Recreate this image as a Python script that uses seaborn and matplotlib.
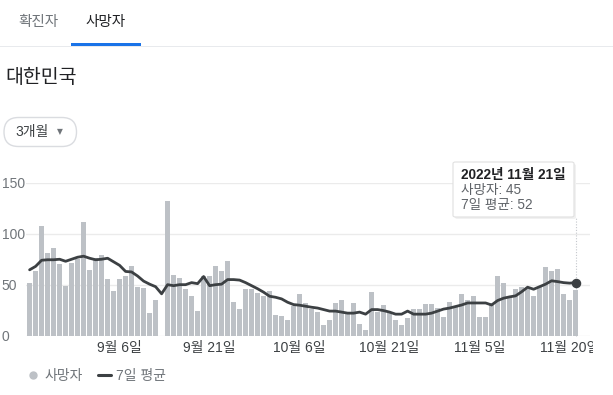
import numpy as np
import pandas as pd
import seaborn as sns
import matplotlib.pyplot as plt
from matplotlib.patches import FancyBboxPatch, Rectangle
from matplotlib.lines import Line2D
from matplotlib.transforms import Bbox, TransformedBbox

# daily deaths, 2022-08-22 .. 2022-11-21
deaths = [52, 63, 108, 81, 86, 70, 49, 71, 75, 112,
          64, 76, 79, 56, 44, 56, 59, 68, 48, 47,
          22, 35, 0, 132, 60, 57, 46, 39, 24, 59,
          59, 68, 63, 73, 33, 26, 46, 46, 42, 39,
          44, 20, 19, 15, 29, 41, 32, 26, 23, 10,
          15, 32, 35, 23, 32, 11, 5, 43, 23, 30,
          23, 15, 10, 17, 26, 26, 31, 31, 27, 18,
          33, 29, 41, 35, 39, 18, 18, 32, 59, 52,
          38, 46, 48, 46, 39, 48, 67, 63, 65, 41,
          35, 45]

# 7-day average line
avg7 = [64.6, 68, 74, 74.5, 74.5, 75, 73, 75, 77, 78,
        76, 74.5, 75, 76, 72.5, 69, 63, 62.5, 58.5, 53.5,
        50.5, 48, 41, 50, 49, 50, 50, 52, 51, 58,
        49, 50, 50.5, 55, 55, 54.5, 52, 49, 46, 42.6,
        38.6, 37.6, 36, 32.7, 30.4, 29.8, 28.8, 27.8, 27, 25.5,
        24, 24, 23, 22, 22, 23, 21, 25.5, 25.5, 24.5,
        23, 21, 21, 24, 21, 21, 21, 22, 24, 26,
        27, 28.5, 30, 32, 32, 32, 32, 30, 34.4, 36.7,
        38, 39, 43, 47.5, 45.5, 48, 50.5, 53.8, 53, 52,
        51.5, 52]

tick_days = [15, 30, 45, 60, 75, 90]
tick_labels = ['9월 6일', '9월 21일', '10월 6일', '10월 21일', '11월 5일', '11월 20일']
y_ticks = [0, 50, 100, 150]

W, H = 613, 395


def fx(x):
    return x / W


def fy(y):
    return 1 - y / H


sns.set_theme(style='white')
plt.rcParams['font.family'] = ['Liberation Sans', 'Noto Sans CJK KR', 'DejaVu Sans']

df = pd.DataFrame({'day': np.arange(len(deaths)), 'deaths': deaths, 'avg': avg7})

fig = plt.figure(figsize=(W / 100, H / 100), dpi=100)
ax = fig.add_axes([fx(26), fy(335.5), fx(590) - fx(26), fy(183) - fy(335.5)])

sns.barplot(data=df, x='day', y='deaths', native_scale=True, color='#bdc1c6',
            saturation=1, width=0.88, errorbar=None, ax=ax, zorder=2, linewidth=0)
sns.lineplot(data=df, x='day', y='avg', color='#3c4043', linewidth=2, ax=ax, zorder=3)
ax.scatter([df['day'].iloc[-1]], [df['avg'].iloc[-1]], s=34, color='#3c4043', zorder=4)
ax.plot([df['day'].iloc[-1]] * 2, [0, 116], ls=(0, (1, 1.5)), lw=0.8,
        color='#c4c7cc', zorder=1, clip_on=False)

ax.set_xlim(-0.6, 93.4)
ax.set_ylim(0, 150)
ax.set_xticks(tick_days)
ax.set_xticklabels(tick_labels)
ax.set_yticks(y_ticks)
ax.set_xlabel('')
ax.set_ylabel('')
ax.yaxis.grid(True, color='#ebebeb', lw=1, zorder=0)
ax.set_axisbelow(True)
for s in ax.spines.values():
    s.set_visible(False)
ax.tick_params(axis='x', length=0, pad=4, labelsize=10, labelcolor='#3c4043')
ax.tick_params(axis='y', length=0, pad=17.5, labelsize=10, labelcolor='#70757a')
for lab in ax.get_yticklabels():
    lab.set_horizontalalignment('left')

# the last date label is cut by the card edge
clip = TransformedBbox(Bbox([[0, 0], [fx(593), 1]]), fig.transFigure)
for lab in ax.get_xticklabels():
    lab.set_clip_box(clip)
    lab.set_clip_on(True)

# header: tabs
fig.text(fx(38), fy(22), '확진자', ha='center', va='center', fontsize=10.5, color='#70757a')
fig.text(fx(106), fy(22), '사망자', ha='center', va='center', fontsize=10.5, color='#202124')
fig.add_artist(Rectangle((0, fy(47)), 1, 1 / H, transform=fig.transFigure,
                         color='#e8eaed', lw=0))
fig.add_artist(Rectangle((fx(71), fy(46)), fx(141) - fx(71), 3 / H,
                         transform=fig.transFigure, color='#1a73e8', lw=0))

fig.text(fx(5), fy(78), '대한민국', ha='left', va='center', fontsize=14, color='#202124')

# range selector pill (inches)
fig.add_artist(FancyBboxPatch((0.04, (H - 146.5) / 100), 0.725, 0.29,
                              boxstyle='round,pad=0,rounding_size=0.145',
                              transform=fig.dpi_scale_trans, fc='white', ec='#dadce0', lw=1))
fig.text(fx(15), fy(132), '3개월', ha='left', va='center', fontsize=10, color='#3c4043')
fig.text(fx(60), fy(132), '▼', ha='center', va='center', fontsize=5.5, color='#70757a',
         family=['DejaVu Sans'])

# tooltip
fig.add_artist(FancyBboxPatch((fx(455), fy(219)), fx(121), 55 / H,
                              boxstyle='round,pad=0,rounding_size=0.004',
                              transform=fig.transFigure, fc='#f1f1f1', ec='none',
                              zorder=9))
fig.add_artist(FancyBboxPatch((fx(453), fy(217)), fx(121), 55 / H,
                              boxstyle='round,pad=0,rounding_size=0.004',
                              transform=fig.transFigure, fc='white', ec='#e0e0e0', lw=0.8,
                              zorder=10))
fig.text(fx(461), fy(175), '2022년 11월 21일', ha='left', va='center', fontsize=9.8,
         color='#202124', fontweight='bold', zorder=11)
fig.text(fx(461), fy(190), '사망자: 45', ha='left', va='center', fontsize=9.8,
         color='#5f6368', zorder=11)
fig.text(fx(461), fy(205), '7일 평균: 52', ha='left', va='center', fontsize=9.8,
         color='#5f6368', zorder=11)

# legend
handles = [Line2D([], [], marker='o', ls='', color='#bdc1c6', markersize=5),
           Line2D([], [], color='#3c4043', lw=2.2)]
fig.legend(handles, ['사망자', '7일 평균'], loc='center left',
           bbox_to_anchor=(fx(14), fy(376)), ncol=2, frameon=False, fontsize=10,
           handlelength=0.9, handletextpad=0.4, columnspacing=1.1, labelcolor='#70757a')

fig.savefig('out.png', dpi=100)
